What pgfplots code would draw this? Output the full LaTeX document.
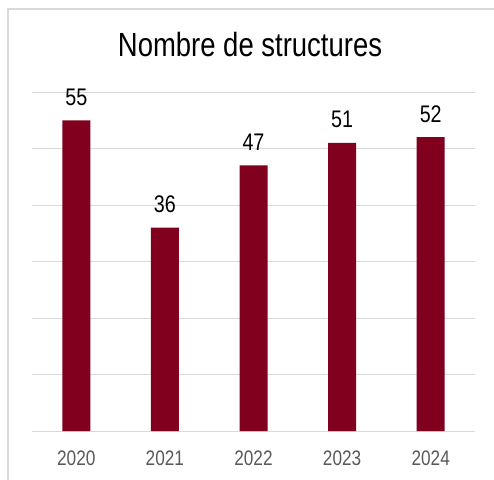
\documentclass[border=0pt]{standalone}
\usepackage{fontspec}
\setmainfont{Liberation Sans}[FakeStretch=0.82]
\usepackage{pgfplots}
\pgfplotsset{compat=1.18}
\definecolor{barred}{RGB}{128,0,30}
\definecolor{gridgray}{RGB}{217,217,217}
\definecolor{ticktext}{RGB}{89,89,89}
\begin{document}
\begin{tikzpicture}
\begin{scope}
\clip (0pt,0pt) rectangle (494pt,479pt);
\draw[gridgray, line width=1.2pt] (8pt,-20pt) rectangle (520pt,470pt);
\end{scope}
\begin{axis}[
  at={(32pt,48pt)}, anchor=south west,
  scale only axis, width=443pt, height=339pt,
  xmin=-0.5, xmax=4.5, ymin=0, ymax=60,
  axis line style={draw=none},
  ytick={0,10,...,60}, yticklabels={},
  ymajorgrids, grid style={gridgray, line width=0.8pt},
  major tick length=0pt,
  xtick=data, xticklabels={2020,2021,2022,2023,2024},
  xticklabel style={font=\fontsize{21}{24}\selectfont, text=ticktext, yshift=-16pt},
  ybar, bar width=28pt,
  /pgf/number format/assume math mode=true,
  nodes near coords,
  every node near coord/.append style={font=\fontsize{24}{28}\selectfont, text=black, anchor=base, yshift=15pt},
  clip=false,
]
\addplot[fill=barred, draw=none] coordinates {(0,55) (1,36) (2,47) (3,51) (4,52)};
\end{axis}
\node[font=\fontsize{33.5}{36}\selectfont, text=black] at (250pt,434pt) {Nombre de structures};
\pgfresetboundingbox
\useasboundingbox (0pt,0pt) rectangle (494pt,479pt);
\end{tikzpicture}
\end{document}
